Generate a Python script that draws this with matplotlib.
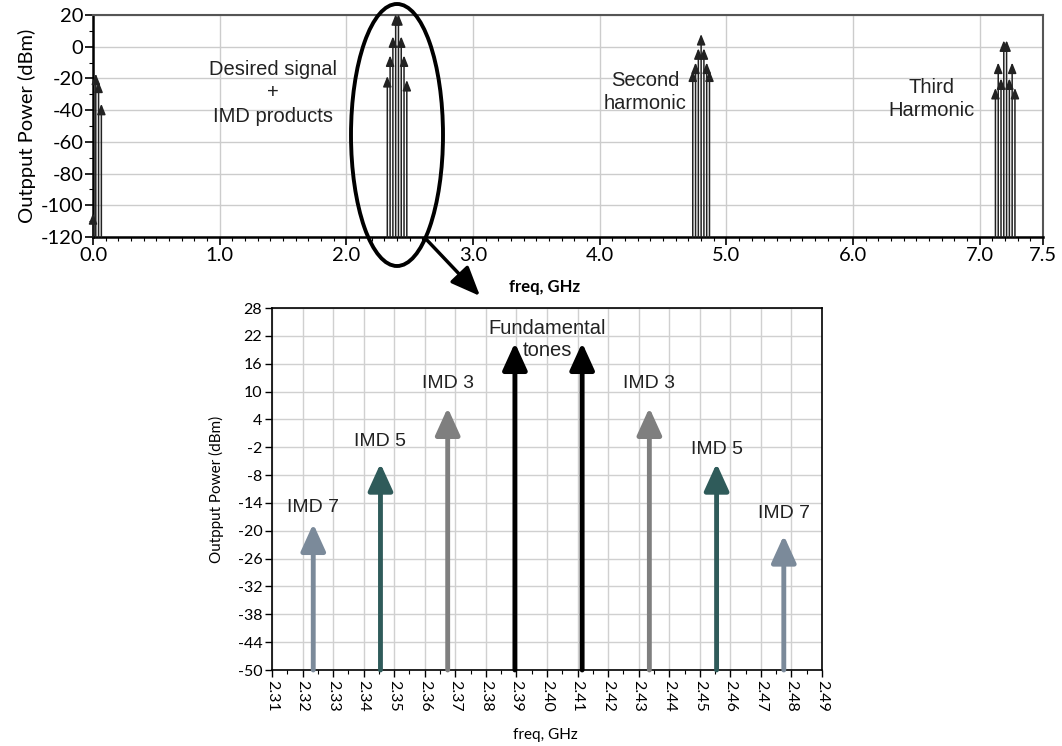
import numpy as np
import matplotlib.pyplot as plt
from matplotlib.patches import Ellipse
from matplotlib.ticker import MultipleLocator

# Dados
low_freq = [0.0, 0.022, 0.044, 0.066]
low_pwr = [-105, -17, -22, -36]

tone_freq = [2.3235, 2.3455, 2.3675, 2.3895, 2.4115, 2.4335, 2.4555, 2.4775]
tone_pwr = [-18.5, -5.5, 6.5, 20.5, 20.5, 6.5, -5.5, -21]
tone_names = ["IMD 7", "IMD 5", "IMD 3", None, None, "IMD 3", "IMD 5", "IMD 7"]
tone_colors = ["#7b8a9a", "#2f5b5a", "#7f7f7f", "black", "black", "#7f7f7f", "#2f5b5a", "#7b8a9a"]

h2_freq = [4.735, 4.757, 4.779, 4.801, 4.823, 4.845, 4.867]
h2_pwr = [-15, -10, -1, 8, -1, -10, -15]

h3_freq = [7.1245, 7.1465, 7.1685, 7.1905, 7.2125, 7.2345, 7.2565, 7.2785]
h3_pwr = [-26, -10, -20, 4, 4, -20, -10, -26]

top_xticks = [0.0, 1.0, 2.0, 3.0, 4.0, 5.0, 6.0, 7.0, 7.5]
top_yticks = [20, 0, -20, -40, -60, -80, -100, -120]
bot_yticks = [28, 22, 16, 10, 4, -2, -8, -14, -20, -26, -32, -38, -44, -50]
bot_xticks = [2.31, 2.32, 2.33, 2.34, 2.35, 2.36, 2.37, 2.38, 2.39, 2.40,
              2.41, 2.42, 2.43, 2.44, 2.45, 2.46, 2.47, 2.48, 2.49]

# posição vertical dos rótulos IMD (em dBm)
label_y = [-15, -0.7, 11.8, None, None, 11.8, -2.4, -16.2]

fig = plt.figure(figsize=(10.62, 7.46), dpi=100)
W, H = 1062, 746

def px_axes(l, t, r, b):
    return fig.add_axes([l / W, 1 - b / H, (r - l) / W, (b - t) / H])

axis_font = "Lato"
note_font = "Liberation Sans"

# Parte 1: espectro completo
ax1 = px_axes(93, 15, 1043, 237)
ax1.set_xlim(0, 7.5)
ax1.set_ylim(-120, 20)
ax1.set_xticks(top_xticks)
ax1.set_xticklabels(["%.1f" % t for t in top_xticks], fontfamily=axis_font, fontsize=14.5)
ax1.set_yticks(top_yticks)
ax1.set_yticklabels([str(t) for t in top_yticks], fontfamily=axis_font, fontsize=14.5)
ax1.xaxis.set_minor_locator(MultipleLocator(0.1))
ax1.yaxis.set_minor_locator(MultipleLocator(10))
ax1.tick_params(which="major", length=6, width=1.2, pad=1)
ax1.tick_params(which="minor", length=3, width=0.8)
ax1.grid(True, which="major", color="#cccccc", lw=1)
ax1.set_axisbelow(True)
for s in ["left", "bottom"]:
    ax1.spines[s].set_linewidth(1.8)
for s in ["top", "right"]:
    ax1.spines[s].set_color("#555555")
    ax1.spines[s].set_linewidth(1.5)
ax1.set_ylabel("Outpput Power (dBm)", fontfamily=axis_font, fontsize=14.5, labelpad=3)

for fr, pw in [(low_freq, low_pwr), (tone_freq, tone_pwr), (h2_freq, h2_pwr), (h3_freq, h3_pwr)]:
    for f, p in zip(fr, pw):
        ax1.annotate("", xy=(f, p), xytext=(f, -120),
                     arrowprops=dict(arrowstyle="-|>,head_length=0.7,head_width=0.28",
                                     mutation_scale=9, lw=1.1, color="#222222",
                                     shrinkA=0, shrinkB=0), annotation_clip=False)

ax1.text(1.42, -29, "Desired signal\n+\nIMD products", ha="center", va="center",
         fontfamily=note_font, fontsize=14.5, linespacing=1.3, color="#222222")
ax1.text(4.36, -28.5, "Second\nharmonic", ha="center", va="center",
         fontfamily=note_font, fontsize=14.5, linespacing=1.25, color="#222222")
ax1.text(6.62, -33, "Third\nHarmonic", ha="center", va="center",
         fontfamily=note_font, fontsize=14.5, linespacing=1.25, color="#222222")
fig.text(545 / W, 1 - 287 / H, "freq, GHz", ha="center", va="center",
         fontfamily=axis_font, fontsize=12, fontweight="bold")

# Parte 2: zoom nos tons fundamentais e produtos IMD
ax2 = px_axes(272, 308, 822, 670)
ax2.set_xlim(2.31, 2.49)
ax2.set_ylim(-50, 28)
ax2.set_xticks(bot_xticks)
ax2.set_xticklabels(["%.2f" % t for t in bot_xticks], rotation=-90,
                    fontfamily=axis_font, fontsize=11.5)
ax2.set_yticks(bot_yticks)
ax2.set_yticklabels([str(t) for t in bot_yticks], fontfamily=axis_font, fontsize=11.5)
ax2.xaxis.set_minor_locator(MultipleLocator(0.005))
ax2.tick_params(which="major", length=5, width=1, pad=2)
ax2.tick_params(which="minor", length=3, width=0.8)
ax2.grid(True, which="major", color="#d0d0d0", lw=1)
ax2.set_axisbelow(True)
for s in ax2.spines.values():
    s.set_linewidth(1.2)
ax2.set_ylabel("Outpput Power (dBm)", fontfamily=axis_font, fontsize=11, labelpad=10)
fig.text(545 / W, 1 - 735 / H, "freq, GHz", ha="center", va="center",
         fontfamily=axis_font, fontsize=11)

for f, p, name, c, ly in zip(tone_freq, tone_pwr, tone_names, tone_colors, label_y):
    ax2.annotate("", xy=(f, p), xytext=(f, -50),
                 arrowprops=dict(arrowstyle="-|>,head_length=1.1,head_width=0.5",
                                 mutation_scale=15, lw=3.5, color=c,
                                 shrinkA=0, shrinkB=0))
    if name:
        ax2.text(f, ly, name, ha="center", va="center",
                 fontfamily=note_font, fontsize=14, color="#222222")
ax2.text(2.4, 21.3, "Fundamental\ntones", ha="center", va="center",
         fontfamily=note_font, fontsize=14.5, linespacing=1.2, color="#222222")

# Elipse e seta de ligação
ov = fig.add_axes([0, 0, 1, 1], zorder=10)
ov.set_xlim(0, W)
ov.set_ylim(H, 0)
ov.axis("off")
ov.patch.set_alpha(0)
ov.add_patch(Ellipse((397, 135), 92, 262, fill=False, lw=2.8, color="black"))
ov.annotate("", xy=(480, 296), xytext=(425, 238),
            arrowprops=dict(arrowstyle="-|>,head_length=1.2,head_width=0.5",
                            mutation_scale=15, lw=2.5, color="black",
                            shrinkA=0, shrinkB=0))

plt.savefig("out.png", dpi=100)
